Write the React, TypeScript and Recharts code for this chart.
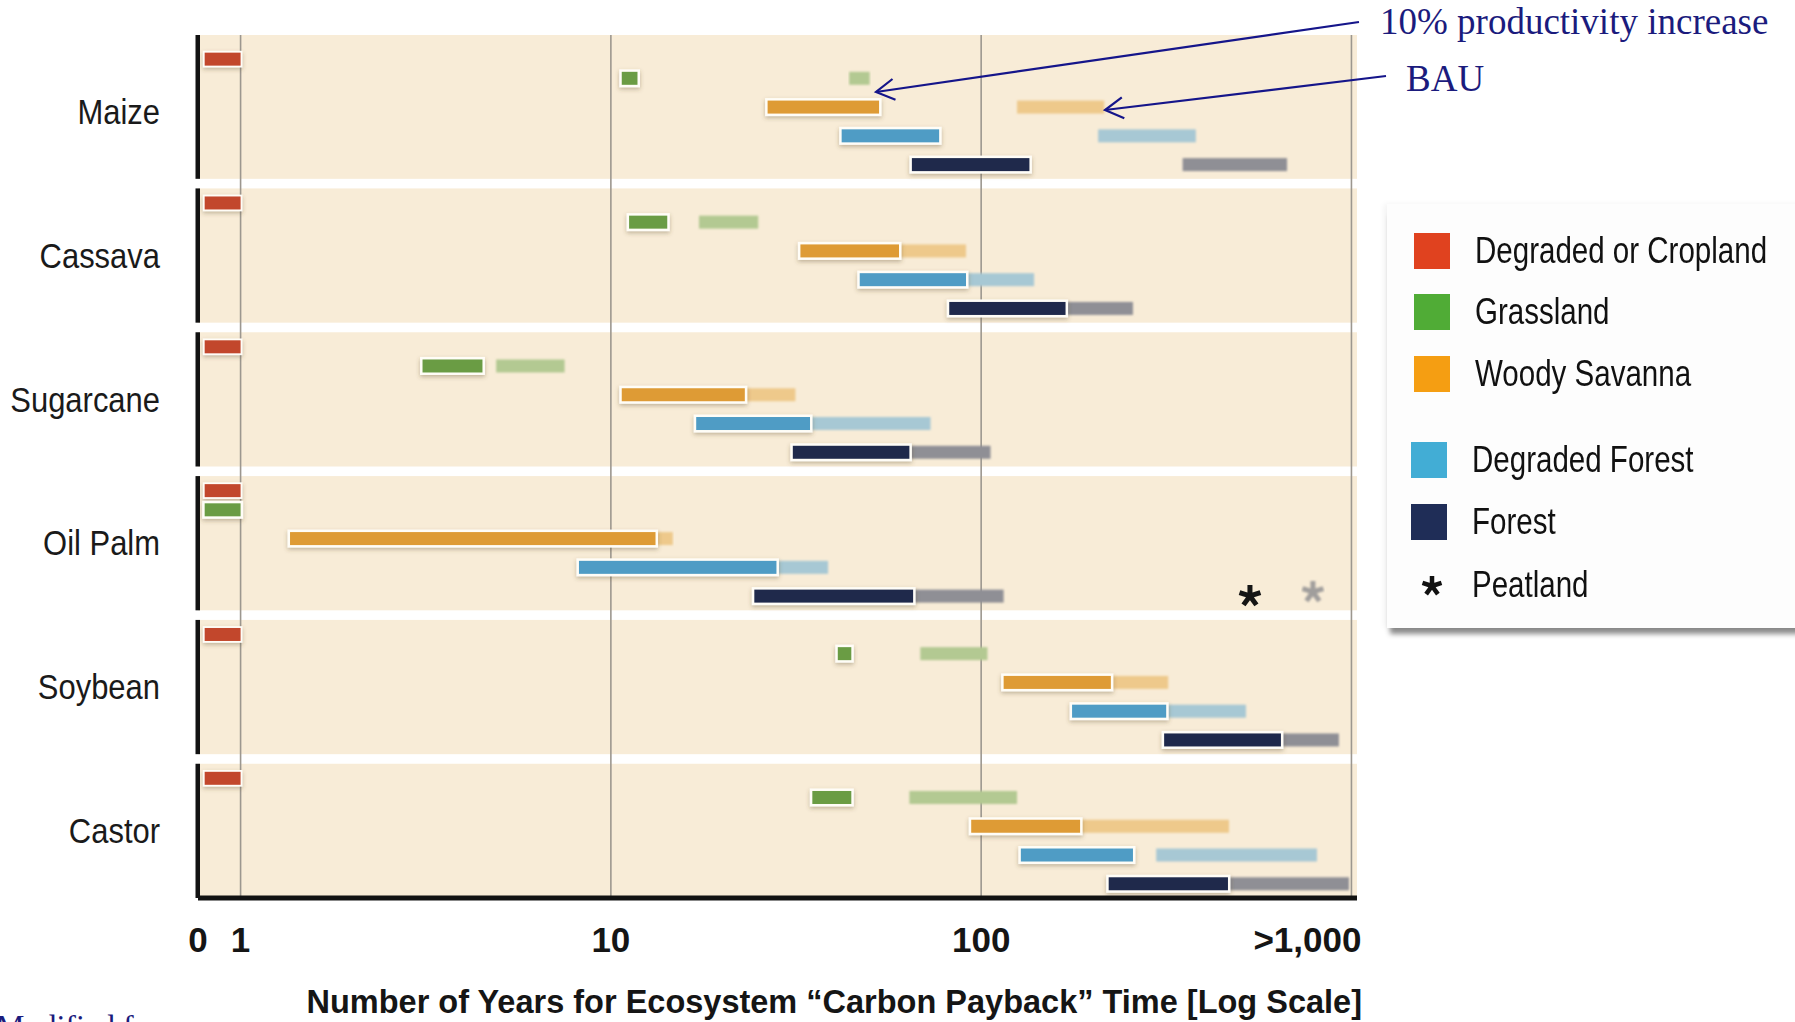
import React from "react";
import { ComposedChart, Bar, Scatter, XAxis, YAxis, ReferenceArea, ReferenceLine } from "recharts";

type Span = [number, number] | null;

const CROPS = ["Maize", "Cassava", "Sugarcane", "Oil Palm", "Soybean", "Castor"];
const LAND_TYPES = ["Degraded or Cropland", "Grassland", "Woody Savanna", "Degraded Forest", "Forest"];

// carbon payback time in years, [from, to], one entry per crop (CROPS order)
const CROPLAND_10PCT: Span[] = [[0, 1], [0, 1], [0, 1], [0, 1], [0, 1], [0, 1]];
const CROPLAND_BAU: Span[] = [null, null, null, null, null, null];
const GRASSLAND_10PCT: Span[] = [[10.7, 11.8], [11.2, 14.2], [3.1, 4.5], [0, 1], [41, 44.6], [35, 44.6]];
const GRASSLAND_BAU: Span[] = [[44, 50], [17.3, 25], [4.9, 7.5], null, [68.5, 104], [64, 125]];
const SAVANNA_10PCT: Span[] = [[26.5, 53], [32.5, 60], [10.7, 23], [1.36, 13.2], [115, 224], [94, 185]];
const SAVANNA_BAU: Span[] = [[125, 215], [60, 91], [23, 31.5], [13.2, 14.7], [224, 320], [185, 467]];
const DEG_FOREST_10PCT: Span[] = [[42, 77], [47, 91], [17, 34.5], [8.2, 28], [176, 316], [128, 257]];
const DEG_FOREST_BAU: Span[] = [[207, 380], [91, 139], [34.5, 73], [28, 38.6], [316, 519], [297, 807]];
const FOREST_10PCT: Span[] = [[65, 135], [82, 169], [31, 64], [24.4, 65.5], [312, 645], [221, 464]];
const FOREST_BAU: Span[] = [[350, 670], [169, 257], [64, 106], [65.5, 115], [645, 925], [464, 985]];
// peatland is only given for oil palm
const PEATLAND_10PCT: (number | null)[] = [null, null, null, 532, null, null];
const PEATLAND_BAU: (number | null)[] = [null, null, null, 787, null, null];

const TICK_YEARS = [0, 1, 10, 100, 1000];
const TICK_LABELS = ["0", "1", "10", "100", ">1,000"];
const X_TITLE = "Number of Years for Ecosystem \u201cCarbon Payback\u201d Time [Log Scale]";

const DARK = ["#c2472c", "#6a9c44", "#de9b35", "#4f9cc5", "#1f294b"];
const LIGHT = ["#d98a78", "#b3c992", "#eec98b", "#a7c8d4", "#8f8f95"];
const SWATCH = ["#e0421f", "#50ac36", "#f59e12", "#42add5", "#1f2d57"];

const SANS = '"Liberation Sans", Arial, "Noto Sans", sans-serif';
const SERIF = '"Liberation Serif", "Times New Roman", serif';
const NAVY_TEXT = "#1b1b7d";
const PANEL_FILL = "#f8ecd7";
// the figure uses a condensed face; squeeze a regular one
const SQUEEZE = 0.86;

// log10 axis; "0" sits on the left edge
const AXIS_MIN = -0.115;
const AXIS_MAX = 3.015;
const ZERO_POS = -0.097;
const toPos = (years: number) => (years <= 0 ? ZERO_POS : Math.log10(years));
const toSpan = (s: Span) => (s ? [toPos(s[0]), toPos(s[1])] : null);
const TICK_POS = TICK_YEARS.map((y) => (y === 0 ? AXIS_MIN : Math.log10(y)));

// each crop block is split into thin rows; land types sit on fixed rows
const ROWS_PER_CROP = 15;
const ROW_SLOT = [2, 4, 7, 10, 13];
const LABEL_SLOT = 7;
const LABEL_RIGHT = 160;
const BAR_H = 13;
const rowId = (c: number, k: number) => `${c}-${k}`;

const IMPROVED = [CROPLAND_10PCT, GRASSLAND_10PCT, SAVANNA_10PCT, DEG_FOREST_10PCT, FOREST_10PCT];
const BAU = [CROPLAND_BAU, GRASSLAND_BAU, SAVANNA_BAU, DEG_FOREST_BAU, FOREST_BAU];

const rows = CROPS.flatMap((_, c) =>
  Array.from({ length: ROWS_PER_CROP }, (_, k) => {
    const type = ROW_SLOT.indexOf(k);
    return {
      id: rowId(c, k),
      type,
      improved: type >= 0 ? toSpan(IMPROVED[type][c]) : null,
      bau: type >= 0 ? toSpan(BAU[type][c]) : null,
    };
  })
);

const peatPoints = CROPS.flatMap((_, c) => {
  const pts: { id: string; x: number; bau: boolean }[] = [];
  const forestRow = rowId(c, ROW_SLOT[4]);
  if (PEATLAND_10PCT[c] != null) pts.push({ id: forestRow, x: toPos(PEATLAND_10PCT[c] as number), bau: false });
  if (PEATLAND_BAU[c] != null) pts.push({ id: forestRow, x: toPos(PEATLAND_BAU[c] as number), bau: true });
  return pts;
});

function ImprovedBar(props: any) {
  const { x, y, width, height, payload } = props;
  if (!payload || !payload.improved) return null;
  const cy = y + height / 2;
  const edge = payload.type === 0 ? 1.8 : 2.5;
  return (
    <g>
      <rect
        x={x - edge}
        y={cy - BAR_H / 2 - edge}
        width={width + 2 * edge}
        height={BAR_H + 2 * edge}
        fill="#fffdf7"
        filter="url(#barShadow)"
      />
      <rect x={x} y={cy - BAR_H / 2} width={width} height={BAR_H} fill={DARK[payload.type]} />
    </g>
  );
}

function BauBar(props: any) {
  const { x, y, width, height, payload } = props;
  if (!payload || !payload.bau) return null;
  const cy = y + height / 2;
  return (
    <rect x={x} y={cy - BAR_H / 2} width={width} height={BAR_H} fill={LIGHT[payload.type]} filter="url(#soft)" />
  );
}

function asteriskPath(cx: number, cy: number, r: number) {
  let d = "";
  for (let i = 0; i < 5; i++) {
    const a = ((-90 + i * 72) * Math.PI) / 180;
    d += `M${cx},${cy}L${cx + r * Math.cos(a)},${cy + r * Math.sin(a)}`;
  }
  return d;
}

function PeatMark(props: any) {
  const { cx, cy, payload } = props;
  if (cx == null || cy == null) return null;
  const bau = payload && payload.bau;
  return (
    <path
      d={asteriskPath(cx, bau ? cy - 4 : cy, 11)}
      stroke={bau ? "#a09e9c" : "#151515"}
      strokeWidth={5}
      fill="none"
      filter={bau ? "url(#soft)" : undefined}
    />
  );
}

function Panel(props: any) {
  const { x, y, width, height } = props;
  return (
    <g>
      <rect x={x} y={y} width={width} height={height} fill={PANEL_FILL} />
      <rect x={x - 2.5} y={y} width={4.5} height={height} fill="#121212" />
    </g>
  );
}

function YearTick(props: any) {
  const { x, y, index } = props;
  const last = index === TICK_LABELS.length - 1;
  return (
    <text
      x={last ? x + 10 : x}
      y={y + 52}
      textAnchor={last ? "end" : "middle"}
      fontFamily={SANS}
      fontWeight="bold"
      fontSize={35}
      fill="#151515"
    >
      {TICK_LABELS[index]}
    </text>
  );
}

function CropTick(props: any) {
  const { y, payload } = props;
  const c = Number(String(payload.value).split("-")[0]);
  return (
    <text
      transform={`translate(${LABEL_RIGHT},${y + 17}) scale(${SQUEEZE},1)`}
      textAnchor="end"
      fontFamily={SANS}
      fontSize={36}
      fill="#1a1a1a"
    >
      {CROPS[c]}
    </text>
  );
}

function AxisTitle(props: any) {
  const vb = props.viewBox || { x: 198, y: 898, width: 1159, height: 118 };
  return (
    <text
      transform={`translate(${vb.x + vb.width + 5},${vb.y + 115}) scale(0.985,1)`}
      textAnchor="end"
      fontFamily={SANS}
      fontWeight="bold"
      fontSize={33}
      fill="#151515"
    >
      {X_TITLE}
    </text>
  );
}

function arrowHead(tipX: number, tipY: number, fromX: number, fromY: number) {
  const a = Math.atan2(fromY - tipY, fromX - tipX);
  const len = 21;
  const spread = (30 * Math.PI) / 180;
  const p1 = [tipX + len * Math.cos(a + spread), tipY + len * Math.sin(a + spread)];
  const p2 = [tipX + len * Math.cos(a - spread), tipY + len * Math.sin(a - spread)];
  return `M${p1[0]},${p1[1]}L${tipX},${tipY}L${p2[0]},${p2[1]}`;
}

const ARROWS = [
  { from: [1359, 22], to: [876, 92] },
  { from: [1386, 76], to: [1105, 110] },
];

function LegendBox() {
  const tops = [29, 90, 152, 238, 300];
  const textStyle: React.CSSProperties = {
    position: "absolute",
    lineHeight: "44px",
    whiteSpace: "nowrap",
    transform: `scaleX(${0.82})`,
    transformOrigin: "0 50%",
  };
  return (
    <div
      style={{
        position: "absolute",
        left: 1387,
        top: 204,
        width: 420,
        height: 424,
        background: "#fdfdfd",
        boxShadow: "0 9px 5px -3px rgba(0,0,0,0.45), -3px 0 6px rgba(0,0,0,0.05)",
        fontFamily: SANS,
        fontSize: 36,
        color: "#111",
      }}
    >
      {LAND_TYPES.map((name, i) => {
        const left = i < 3 ? 27 : 24;
        return (
          <div key={name}>
            <div
              style={{ position: "absolute", left, top: tops[i], width: 36, height: 36, background: SWATCH[i] }}
            />
            <div style={{ ...textStyle, left: left + 61, top: tops[i] - 4 }}>{name}</div>
          </div>
        );
      })}
      <svg style={{ position: "absolute", left: 28, top: 364 }} width={34} height={34}>
        <path d={asteriskPath(17, 18, 10)} stroke="#111" strokeWidth={4.5} fill="none" />
      </svg>
      <div style={{ ...textStyle, left: 85, top: 359 }}>Peatland</div>
    </div>
  );
}

export default function App() {
  const labelTicks = CROPS.map((_, c) => rowId(c, LABEL_SLOT));
  return (
    <div style={{ position: "absolute", left: 0, top: 0, width: 1795, height: 1022, overflow: "hidden", background: "#fff" }}>
      <svg width={0} height={0} style={{ position: "absolute" }}>
        <defs>
          <filter id="barShadow" x="-20%" y="-80%" width="140%" height="260%">
            <feDropShadow dx="0" dy="2" stdDeviation="2.2" floodColor="#5c4a2a" floodOpacity="0.35" />
          </filter>
          <filter id="soft" x="-5%" y="-40%" width="110%" height="180%">
            <feGaussianBlur stdDeviation="0.8" />
          </filter>
        </defs>
      </svg>

      <ComposedChart
        width={1795}
        height={1022}
        data={rows}
        layout="vertical"
        margin={{ top: 35, right: 438, bottom: 6, left: 0 }}
      >
        <XAxis
          type="number"
          dataKey="x"
          domain={[AXIS_MIN, AXIS_MAX]}
          allowDataOverflow
          ticks={TICK_POS}
          interval={0}
          tick={<YearTick />}
          tickLine={false}
          tickSize={0}
          axisLine={{ stroke: "#121212", strokeWidth: 5 }}
          height={118}
          label={<AxisTitle />}
        />
        <YAxis
          yAxisId="main"
          type="category"
          dataKey="id"
          allowDuplicatedCategory={false}
          width={198}
          ticks={labelTicks}
          interval={0}
          tick={<CropTick />}
          tickLine={false}
          tickSize={0}
          axisLine={false}
        />
        <YAxis yAxisId="bau" type="category" dataKey="id" allowDuplicatedCategory={false} hide />

        {CROPS.map((crop, c) => (
          <ReferenceArea
            key={crop}
            yAxisId="main"
            x1={AXIS_MIN}
            x2={AXIS_MAX}
            y1={rowId(c, c === 0 ? 0 : 1)}
            y2={rowId(c, ROWS_PER_CROP - 1)}
            ifOverflow="visible"
            shape={<Panel />}
            zIndex={-200}
          />
        ))}
        {[0, 1, 2, 3].map((d) => (
          <ReferenceLine key={d} yAxisId="main" x={d} stroke="#9c978f" strokeWidth={1.6} zIndex={-150} />
        ))}

        <Bar yAxisId="bau" dataKey="bau" shape={(p: any) => <BauBar {...p} />} isAnimationActive={false} />
        <Bar yAxisId="main" dataKey="improved" shape={(p: any) => <ImprovedBar {...p} />} isAnimationActive={false} />
        <Scatter yAxisId="main" data={peatPoints} shape={(p: any) => <PeatMark {...p} />} isAnimationActive={false} />
      </ComposedChart>

      <LegendBox />

      <svg
        width={1795}
        height={1022}
        style={{ position: "absolute", left: 0, top: 0, pointerEvents: "none" }}
      >
        <text x={1380} y={34} fontFamily={SERIF} fontSize={37} fill={NAVY_TEXT}>
          10% productivity increase
        </text>
        <text x={1406} y={91} fontFamily={SERIF} fontSize={37} fill={NAVY_TEXT}>
          BAU
        </text>
        {ARROWS.map((a, i) => (
          <g key={i} stroke="#15158a" strokeWidth={2.2} fill="none">
            <line x1={a.from[0]} y1={a.from[1]} x2={a.to[0]} y2={a.to[1]} />
            <path d={arrowHead(a.to[0], a.to[1], a.from[0], a.from[1])} />
          </g>
        ))}
        <text x={-4} y={1037} fontFamily={SERIF} fontSize={32} fill={NAVY_TEXT}>
          Modified from
        </text>
      </svg>
    </div>
  );
}
